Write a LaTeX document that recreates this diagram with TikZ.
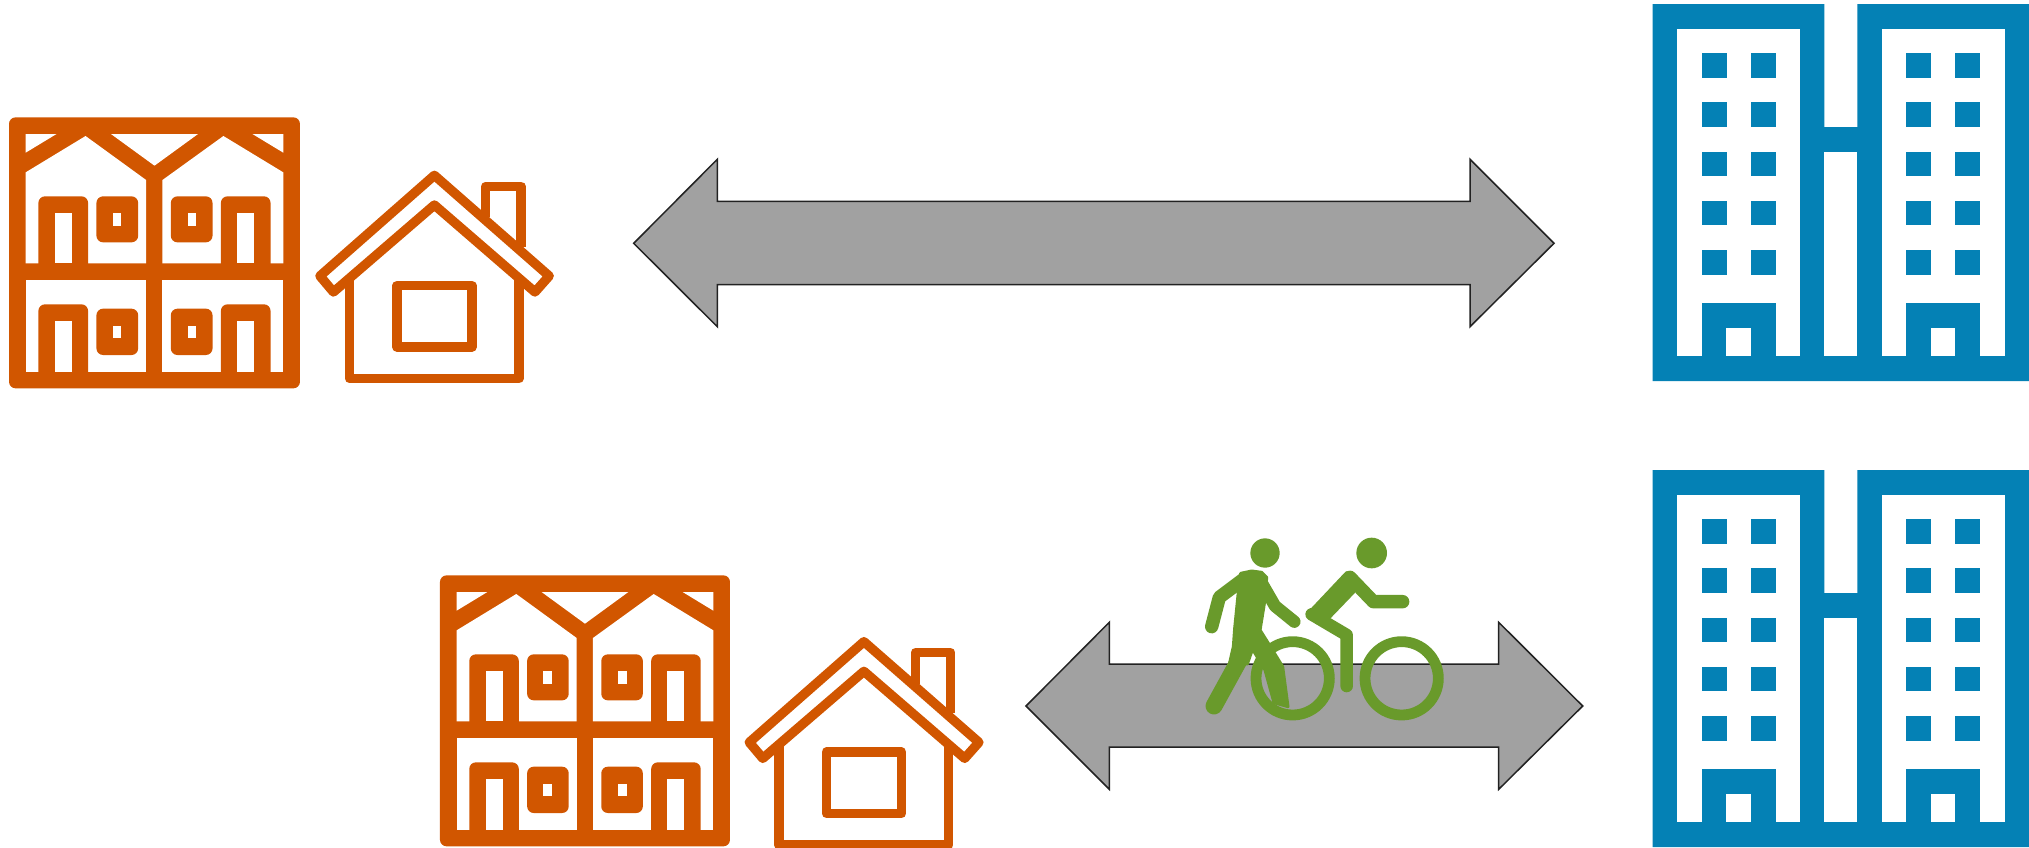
\documentclass[tikz,border=0pt]{standalone}
\definecolor{townorange}{HTML}{D15600}
\definecolor{towerblue}{HTML}{0481B5}
\definecolor{bikegreen}{HTML}{699A2B}
\definecolor{arrowgray}{HTML}{A1A1A1}
\definecolor{arrowline}{HTML}{222222}
\tikzset{
  icon/.style={xscale=1/3,yscale=1/3},
  orangefill/.style={fill=townorange},
  cut/.style={fill=white},
  blockbit/.style={fill=townorange,rounded corners=3.3pt},
  housestroke/.style={draw=townorange,line join=round},
  bigarrow/.style={fill=arrowgray,draw=arrowline,line width=.75pt,line join=miter},
  limb/.style={draw=bikegreen,line cap=round,line join=round},
  softgreen/.style={fill=bikegreen,draw=bikegreen,line width=1.5pt,line join=round},
}
\newcommand{\WinDoor}[7]{%
  \fill[blockbit] (#1,#4+30) rectangle (#2,#3);
  \fill[cut] (#5,#4) rectangle (#6,#7);
}
\newcommand{\Pane}[4]{%
  \fill[blockbit] (#1,#3) rectangle (#1+115,#4);
  \fill[cut] (#2,#3+51) rectangle (#2+24,#3+88);
}
\newcommand{\TownHouse}{%
  \fill[orangefill,rounded corners=3.3pt] (24,52) rectangle (826,865);
  \fill[cut] (70,102) -- (155,102) -- (70,158) -- cycle;
  \fill[cut] (305,102) -- (545,102) -- (425,197) -- cycle;
  \fill[cut] (695,102) -- (780,102) -- (780,158) -- cycle;
  \fill[cut] (70,217) -- (235,108) -- (402,240) -- (402,490) -- (70,490) -- cycle;
  \fill[cut] (447,240) -- (615,108) -- (780,217) -- (780,490) -- (447,490) -- cycle;
  \fill[cut] (70,540) rectangle (402,815);
  \fill[cut] (447,540) rectangle (780,815);
  \WinDoor{105}{242}{289}{490}{150}{197}{340}
  \WinDoor{608}{745}{289}{490}{653}{700}{340}
  \WinDoor{105}{242}{613}{815}{150}{197}{664}
  \WinDoor{608}{745}{613}{815}{653}{700}{664}
  \Pane{265}{310}{289}{427}
  \Pane{470}{516}{289}{427}
  \Pane{265}{310}{626}{765}
  \Pane{470}{516}{626}{765}
}
\newcommand{\HouseIcon}[1]{%
  \draw[housestroke,line width=#1]
    (1197,226) -- (1512,528) -- (1473,576) -- (1197,315) -- (920,576) -- (883,528) -- cycle;
  \draw[housestroke,line width=#1] (1338,352) -- (1338,259) -- (1435,259) -- (1435,440);
  \draw[housestroke,line width=#1] (964,538) -- (964,836) -- (1429,836) -- (1429,538);
  \draw[housestroke,line width=#1] (1094,557) rectangle (1300,741);
}
\newcommand{\Tower}{%
  \fill[towerblue] (38,12) -- (553,12) -- (553,381) -- (652,381) -- (652,12)
    -- (1168,12) -- (1168,1143) -- (38,1143) -- cycle;
  \fill[cut] (111,86) rectangle (480,1069);
  \fill[cut] (725,86) rectangle (1094,1069);
  \fill[cut] (553,455) rectangle (652,1069);
  \foreach \wx in {185,332,798,946}
    \foreach \wy in {160,307,455,602,750}
      \fill[towerblue] (\wx,\wy) rectangle (\wx+75,\wy+74);
  \fill[towerblue] (185,910) rectangle (407,1069);
  \fill[cut] (259,984) rectangle (333,1069);
  \fill[towerblue] (798,910) rectangle (1021,1069);
  \fill[cut] (872,984) rectangle (946,1069);
}
\begin{document}
\begin{tikzpicture}[x=.5pt,y=-.5pt]
  \path[use as bounding box] (0,0) rectangle (2029,847);
  \clip (0,0) rectangle (2029,847);
  \fill[white] (0,0) rectangle (2029,847);

  % arrows
  \path[bigarrow] (633.7,243.3) -- (717.3,159.3) -- (717.3,201.3) -- (1470,201.3) -- (1470,159.3)
    -- (1554,243.3) -- (1470,326.7) -- (1470,284.7) -- (717.3,284.7) -- (717.3,326.7) -- cycle;
  \path[bigarrow] (1026,706) -- (1109.3,622.3) -- (1109.3,664) -- (1498.7,664) -- (1498.7,622.3)
    -- (1582.7,706) -- (1498.7,789.3) -- (1498.7,747) -- (1109.3,747) -- (1109.3,789.3) -- cycle;

  % top row
  \begin{scope}[shift={(0.3,100)},xscale=.3628,yscale=1/3]
    \TownHouse
  \end{scope}
  \begin{scope}[shift={(-1.8,100)},xscale=.3644,yscale=1/3]
    \HouseIcon{4.7pt}
  \end{scope}
  \begin{scope}[shift={(1640,0)},icon]
    \Tower
  \end{scope}

  % bottom row
  \begin{scope}[shift={(431.3,558)},xscale=.3616,yscale=1/3]
    \TownHouse
  \end{scope}
  \begin{scope}[shift={(427,566.33)},xscale=.365,yscale=1/3]
    \HouseIcon{4.7pt}
  \end{scope}
  \begin{scope}[shift={(1640,466)},icon]
    \Tower
  \end{scope}

  % pedestrian and cyclist
  \begin{scope}[shift={(1180,520)},icon]
    % pedestrian
    \fill[bikegreen] (255,99) circle[radius=44];
    \draw[limb,line width=6.7pt] (190,178) -- (118,232) -- (95,320);
    \draw[limb,line width=6.2pt] (240,180) -- (285,258) -- (343,305);
    \path[softgreen] (182,160) -- (215,153) -- (245,157) -- (260,172) -- (254,245) -- (241,325) -- (164,325) -- (174,225) -- cycle;
    \path[softgreen] (164,325) -- (241,325) -- (216,392) -- (202,432) -- (149,428) -- (160,380) -- cycle;
    \draw[limb,line width=8.5pt] (175,425) -- (102,558);
    \path[softgreen] (205,345) -- (240,330) -- (262,365) -- (308,440) -- (324,560) -- (282,548) -- (255,450) -- (222,395) -- cycle;
    % cyclist
    \fill[bikegreen] (575,99) circle[radius=46];
    \draw[limb,line width=6.7pt] (668,245) -- (580,245) -- (510,172);
    \path[softgreen] (500,158) -- (522,215) -- (450,290) -- (382,283) -- cycle;
    \draw[limb,line width=6.3pt] (395,283) -- (500,345) -- (500,498);
    % wheels
    \draw[bikegreen,line width=5.4pt] (338,475) circle[radius=110];
    \draw[bikegreen,line width=5.4pt] (665,475) circle[radius=110];
  \end{scope}
\end{tikzpicture}
\end{document}
